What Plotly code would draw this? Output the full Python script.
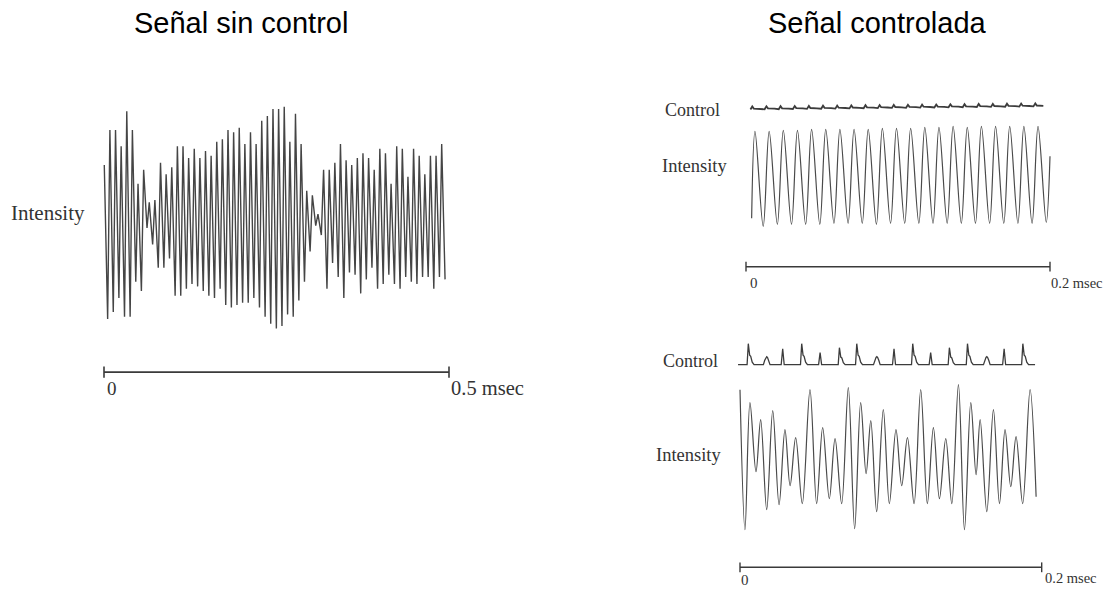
import plotly.graph_objects as go

W, H = 1117, 590

# ---------------- data ----------------
# Left panel: uncontrolled signal, alternating peak / trough levels (0-100 intensity scale)
left_peaks = [70, 85, 85, 78, 93, 85, 62, 68, 54, 55, 71, 66, 69, 78, 78, 73, 77, 73, 76, 74,
              80, 81, 85, 84, 86, 79, 84, 79, 89, 91, 94, 94, 95, 80, 92, 79, 59, 57, 49, 68,
              68, 71, 79, 72, 70, 73, 75, 73, 68, 77, 75, 62, 78, 77, 65, 77, 74, 66, 74, 74, 79]
left_troughs = [4, 7, 13, 5, 5, 20, 16, 43, 36, 26, 26, 30, 14, 14, 17, 19, 18, 16, 14, 13,
                17, 10, 9, 10, 11, 11, 13, 9, 5, 2, 0, 1, 6, 5, 12, 20, 33, 44, 40, 17,
                28, 22, 13, 24, 23, 15, 21, 26, 17, 19, 23, 19, 17, 22, 20, 19, 22, 22, 17, 22, 21]
left_period_ms = 0.00815
left_start_ms = 0.0004

# Right top: controlled signal (period-1), peak / trough levels
top_peaks = [97, 97, 98, 98, 99, 99, 99, 99, 99, 100, 100, 100, 101, 101, 102, 101, 102, 102, 102, 102, 102]
top_troughs = [2, 4, 4, 4, 4, 5, 5, 5, 4, 5, 5, 5, 5, 5, 5, 5, 5, 5, 5, 5, 6]
top_start_level, top_end_level = 10, 72
top_first_peak_us, top_period_us = 5.92, 9.31

# Right top control trace: small sawtooth, crest and dip per period
ctrl_top_crest = [1.5, 1.7, 1.8, 2.0, 2.1, 2.3, 2.4, 2.6, 2.8, 2.9, 3.1, 3.2, 3.4, 3.5, 3.7, 3.8, 4.0, 4.1, 4.3, 4.4, 4.6]
ctrl_top_dip = [-1.5, -1.3, -1.2, -1.0, -0.9, -0.7, -0.6, -0.4, -0.2, -0.1, 0.1, 0.2, 0.4, 0.5, 0.7, 0.8, 1.0, 1.1, 1.3, 1.4, 1.6]

# Right bottom: controlled signal (higher period), extrema times (us) and levels
bot_t = [0, 3.3, 6.6, 10.6, 13.7, 17.7, 21.7, 25.9, 29.8, 33.2, 36.9, 41.3, 46.4, 50.8, 54.8, 59.2,
         63.0, 67.4, 71.8, 76.0, 80.0, 83.6, 86.7, 90.6, 95.0, 99.0, 103.4, 107.2, 111.0, 115.4,
         119.8, 124.2, 128.2, 132.2, 136.4, 140.4, 144.8, 148.8, 153.0, 156.5, 159.2, 163.6,
         168.0, 172.0, 175.7, 179.5, 183.0, 187.4, 192.3, 196.3]
bot_v = [147, 7, 134, 65, 117, 27, 126, 32, 107, 51, 99, 33, 147, 33, 109, 38,
         98, 33, 149, 8, 134, 63, 116, 25, 127, 33, 107, 51, 99, 33,
         147, 33, 109, 38, 98, 33, 152, 7, 134, 62, 117, 25,
         127, 33, 107, 50, 100, 33, 147, 40]

# Right bottom control trace: spike times (us), heights and kinds
ctrl_bot_t = [5.5, 17.7, 28.3, 40.9, 53.1, 65.9, 77.4, 90.7, 102.1, 114.5, 126.4, 138.8, 150.8, 163.6, 175.1, 187.5]
ctrl_bot_h = [21, 8, 16, 21, 12, 17, 21, 8, 16, 21, 12, 17, 21, 8, 16, 21]
ctrl_bot_kind = ["h", "b", "s", "h", "s", "h", "h", "b", "s", "h", "s", "h", "h", "b", "s", "h"]
ctrl_bot_span = (-1.3, 195.6)

# ---------------- helpers ----------------
def fx(p):
    return p / W

def fy(p):
    return 1 - p / H

def ydom(py_bottom, py_top):
    return [fy(py_bottom), fy(py_top)]

def xdom(px_left, px_right):
    return [fx(px_left), fx(px_right)]

LINE = "#4a4a4a"
BAR = "#3a3a3a"
SERIF = "Liberation Serif, Times New Roman, serif"

fig = go.Figure()

# ----- left panel -----
lt, lv = [], []
for i, (p, tr) in enumerate(zip(left_peaks, left_troughs)):
    t0 = left_start_ms + i * left_period_ms
    lt += [t0, t0 + 0.6 * left_period_ms]
    lv += [p, tr]
fig.add_trace(go.Scatter(x=lt, y=lv, mode="lines", line=dict(color="#454545", width=1.4),
                         xaxis="x", yaxis="y", hoverinfo="skip"))
fig.add_trace(go.Scatter(x=[0, 0.5], y=[-18.7, -18.7], mode="lines+markers",
                         line=dict(color=BAR, width=1.8),
                         marker=dict(symbol="line-ns", size=8, line=dict(color=BAR, width=1.6)),
                         cliponaxis=False, xaxis="x", yaxis="y", hoverinfo="skip"))

# ----- right top -----
tt = [top_first_peak_us - 2.2]
tv = [top_start_level]
for i, (p, tr) in enumerate(zip(top_peaks, top_troughs)):
    tp = top_first_peak_us + i * top_period_us
    tt += [tp, tp + 0.58 * top_period_us]
    tv += [p, tr]
tt.append(200.0)
tv.append(top_end_level)
fig.add_trace(go.Scatter(x=[t / 1000 for t in tt], y=tv, mode="lines",
                         line=dict(color=LINE, width=1.2, shape="spline", smoothing=1.0),
                         xaxis="x2", yaxis="y3", hoverinfo="skip"))
fig.add_trace(go.Scatter(x=[0, 0.2], y=[-38.4, -38.4], mode="lines+markers",
                         line=dict(color=BAR, width=1.6),
                         marker=dict(symbol="line-ns", size=7, line=dict(color=BAR, width=1.4)),
                         cliponaxis=False, xaxis="x2", yaxis="y3", hoverinfo="skip"))

ct, cv = [], []
for i, (c, d) in enumerate(zip(ctrl_top_crest, ctrl_top_dip)):
    tp = top_first_peak_us + i * top_period_us - 3.0
    ct += [tp, tp + 1.2, tp + 2.2, tp + 6.5]
    cv += [d, c, d + 0.9, d + 0.6]
fig.add_trace(go.Scatter(x=[t / 1000 for t in ct], y=cv, mode="lines",
                         line=dict(color="#3c3c3c", width=1.8),
                         xaxis="x2", yaxis="y2", hoverinfo="skip"))

# ----- right bottom -----
fig.add_trace(go.Scatter(x=[t / 1000 for t in bot_t], y=bot_v, mode="lines",
                         line=dict(color=LINE, width=1.2, shape="spline", smoothing=1.0),
                         xaxis="x3", yaxis="y5", hoverinfo="skip"))
fig.add_trace(go.Scatter(x=[0, 0.2], y=[-30.6, -30.6], mode="lines+markers",
                         line=dict(color=BAR, width=1.6),
                         marker=dict(symbol="line-ns", size=7, line=dict(color=BAR, width=1.4)),
                         cliponaxis=False, xaxis="x3", yaxis="y5", hoverinfo="skip"))

bt, bv = [ctrl_bot_span[0]], [0]
for t, h, k in zip(ctrl_bot_t, ctrl_bot_h, ctrl_bot_kind):
    if k == "s":
        bt += [t - 1.0, t, t + 1.0]
        bv += [0, h, 0]
    elif k == "b":
        bt += [t - 2.2, t - 1.3, t - 0.5, t, t + 0.5, t + 1.3, t + 2.2]
        bv += [0, 0.55 * h, 0.92 * h, h, 0.92 * h, 0.55 * h, 0]
    else:
        bt += [t - 0.8, t, t + 0.9, t + 1.6, t + 2.6, t + 3.8]
        bv += [0, h, 0.45 * h, 0.4 * h, 0.12 * h, 0]
bt.append(ctrl_bot_span[1])
bv.append(0)
fig.add_trace(go.Scatter(x=[t / 1000 for t in bt], y=bv, mode="lines",
                         line=dict(color="#3c3c3c", width=1.3),
                         xaxis="x3", yaxis="y4", hoverinfo="skip"))

# ---------------- axes ----------------
hidden = dict(visible=False, showgrid=False, zeroline=False, fixedrange=True)
fig.update_layout(
    # left: 690 px per ms, t=0 at px 104
    xaxis=dict(hidden, range=[-0.02, 0.52], domain=xdom(104 - 13.8, 449 + 13.8)),
    yaxis=dict(hidden, range=[-26.4, 100], domain=ydom(390, 95)),
    # right top: 1520 px per ms, t=0 at px 746
    xaxis2=dict(hidden, range=[-0.01, 0.21], domain=xdom(746 - 15.2, 1050 + 15.2), anchor="y3"),
    yaxis2=dict(hidden, range=[-10, 10], domain=ydom(118, 98), anchor="x2"),
    yaxis3=dict(hidden, range=[-50, 110], domain=ydom(278.3, 118.3), anchor="x2"),
    # right bottom: 1508 px per ms, t=0 at px 740
    xaxis3=dict(hidden, range=[-0.01, 0.21], domain=xdom(740 - 15.08, 1041.7 + 15.08), anchor="y5"),
    yaxis4=dict(hidden, range=[-5, 25], domain=ydom(369.7, 339.7), anchor="x3"),
    yaxis5=dict(hidden, range=[-45, 160], domain=ydom(581.7, 376.7), anchor="x3"),
)

# ---------------- text ----------------
ann = []
def add_text(text, x, y, size, family, color, xanchor="center"):
    ann.append(dict(text=text, x=fx(x), y=fy(y), xref="paper", yref="paper", showarrow=False,
                    xanchor=xanchor, yanchor="middle",
                    font=dict(size=size, family=family, color=color)))

SANS = "Liberation Sans, Arial, sans-serif"
add_text("Señal sin control", 240.5, 23, 29, SANS, "#000000")
add_text("Señal controlada", 877.5, 23, 29, SANS, "#000000")

add_text("Intensity", 48, 213, 21, SERIF, "#333333")
add_text("0", 112, 388, 19, SERIF, "#333333")
add_text("0.5 msec", 449, 388, 20.5, SERIF, "#333333", xanchor="left")

add_text("Control", 693, 110, 18, SERIF, "#333333")
add_text("Intensity", 694, 166, 18.5, SERIF, "#333333")
add_text("0", 754, 283, 15, SERIF, "#333333")
add_text("0.2 msec", 1049, 283, 14.5, SERIF, "#333333", xanchor="left")

add_text("Control", 690, 361, 18, SERIF, "#333333")
add_text("Intensity", 689, 455, 18.5, SERIF, "#333333")
add_text("0", 745, 580, 15, SERIF, "#333333")
add_text("0.2 msec", 1043, 578, 14.5, SERIF, "#333333", xanchor="left")

fig.update_layout(
    annotations=ann,
    width=W, height=H,
    margin=dict(l=0, r=0, t=0, b=0),
    paper_bgcolor="white", plot_bgcolor="rgba(0,0,0,0)",
    showlegend=False,
)

fig.write_html("out.html", config={"displayModeBar": False})
